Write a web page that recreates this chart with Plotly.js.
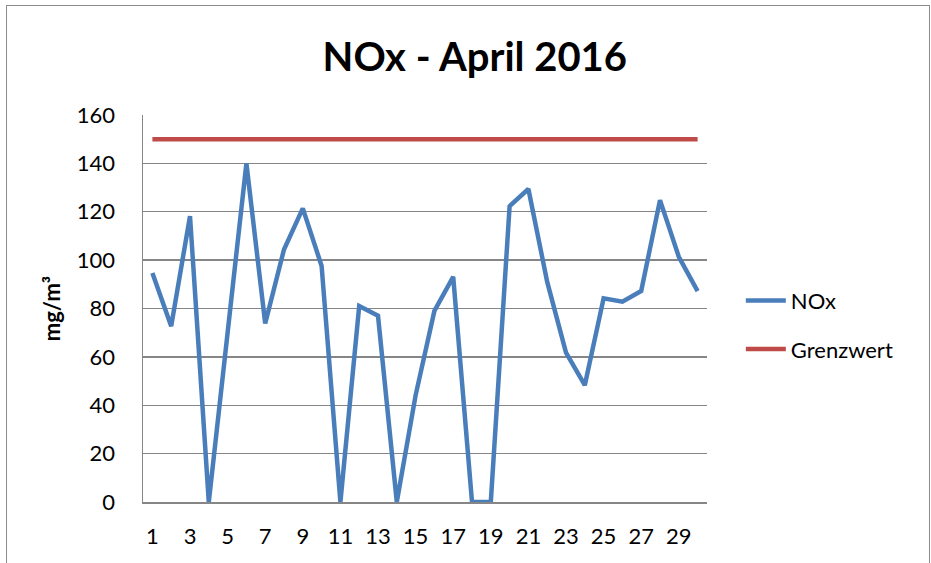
<!DOCTYPE html>
<html>
<head>
<meta charset="utf-8">
<script src="https://cdn.plot.ly/plotly-3.0.1.min.js"></script>
<style>
html,body{margin:0;padding:0;overflow:hidden;background:#fff;}
#wrap{position:relative;width:931px;height:563px;}
#chart{width:931px;height:563px;}
#frame{position:absolute;left:6px;top:5px;width:922px;height:600px;border:1.5px solid #8c8c8c;pointer-events:none;}
</style>
</head>
<body>
<div id="wrap"><div id="chart"></div><div id="frame"></div></div>
<script>
const days = [1,2,3,4,5,6,7,8,9,10,11,12,13,14,15,16,17,18,19,20,21,22,23,24,25,26,27,28,29,30];
const nox = [94.7,72.7,118.2,0,70,140,73.8,104.4,121.4,97.6,0,81,77,0,44.1,79,93.1,0,0,122.3,129.4,91,61.8,48.3,84.2,82.8,87.2,124.8,101.4,87.2];
const grenzwert = [150,150,150,150,150,150,150,150,150,150,150,150,150,150,150,150,150,150,150,150,150,150,150,150,150,150,150,150,150,150];
const xTicks = [1,3,5,7,9,11,13,15,17,19,21,23,25,27,29];
const xTickText = ["1","3","5","7","9","11","13","15","17","19","21","23","25","27","29"];
const yTicks = [0,20,40,60,80,100,120,140,160];

const font = "Lato, 'Open Sans', sans-serif";
const traces = [
  {x: days, y: nox, name: "NOx", type: "scatter", mode: "lines",
   line: {color: "#4A7EBB", width: 4.5}, legendgroup: "a"},
  {x: days, y: grenzwert, name: "Grenzwert", type: "scatter", mode: "lines",
   line: {color: "#BE4B48", width: 4.5}, legendgroup: "b"}
];
const layout = {
  width: 931, height: 563,
  margin: {l: 143, r: 224, t: 115, b: 61, pad: 0},
  paper_bgcolor: "#fff", plot_bgcolor: "#fff",
  font: {family: font, size: 22, color: "#000"},
  title: {text: "<b>NOx - April 2016</b>", font: {family: font, size: 40, color: "#000"},
          x: 0.51, xref: "container", xanchor: "center", y: 0.899, yref: "container", yanchor: "middle"},
  xaxis: {range: [0.5, 30.5], tickvals: xTicks, ticktext: xTickText, showgrid: false, zeroline: false,
          showline: true, linecolor: "#868686", linewidth: 1.5, ticks: "", ticklen: 0,
          ticklabelstandoff: 14,
          tickfont: {family: font, size: 22}, fixedrange: true},
  yaxis: {range: [0, 160], tickvals: yTicks, showgrid: true, gridcolor: "#868686", gridwidth: 1.3,
          zeroline: false, showline: true, linecolor: "#868686", linewidth: 1.5, ticks: "",
          ticklabelstandoff: 22,
          tickfont: {family: font, size: 22},
          title: {text: "<b>mg/m³</b>", font: {family: font, size: 22}, standoff: 10}, fixedrange: true},
  showlegend: true,
  legend: {x: 1.06, xanchor: "left", y: 0.457, yanchor: "middle", font: {family: font, size: 22},
           traceorder: "grouped", tracegroupgap: 17, bgcolor: "rgba(0,0,0,0)", itemwidth: 40}
};
Plotly.newPlot("chart", traces, layout, {displayModeBar: false, staticPlot: true});
</script>
</body>
</html>
